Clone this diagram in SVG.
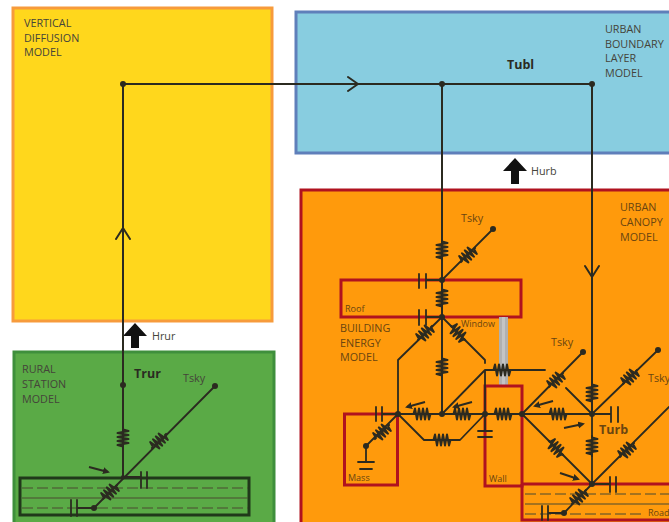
<svg xmlns="http://www.w3.org/2000/svg" width="669" height="522" viewBox="0 0 669 522">
<style>
text{font-family:"Open Sans","Noto Sans","Liberation Sans",sans-serif;font-size:10.800px;fill:#45443a}
.o text,text.o{fill:#6a4510}
.b{font-weight:700;font-size:12.500px;fill:#2a2a22}
.s{font-size:9px}
.w{fill:none;stroke:#2b2a20;stroke-width:1.8;stroke-linecap:round;stroke-linejoin:round}
.t{stroke-width:2}
.r{fill:none;stroke:#2b2a20;stroke-width:2;stroke-linejoin:round;stroke-linecap:round}
.n{fill:#2b2a20}
.red{fill:none;stroke:#b0121f;stroke-width:3}
.d{fill:none;stroke:#4a4a30;stroke-width:1.200;stroke-dasharray:11 4}
.l{fill:none;stroke:#4a4a30;stroke-width:1.200}
.wind{fill:none;stroke:#2b2a20;stroke-width:2;marker-end:url(#ah)}
</style>
<defs>
<path id="R" class="r" d="M-10 0H-8.500L-7 -5.500L-5 5.500L-3 -5.500L-1 5.500L1 -5.500L3 5.500L5 -5.500L7 5.500L8.500 0H10"/>
<marker id="ah" markerWidth="8" markerHeight="8" refX="5" refY="3.500" orient="auto" markerUnits="userSpaceOnUse"><path d="M0 0L7 3.500L0 7Z" fill="#2b2a20"/></marker>
</defs>
<rect width="669" height="522" fill="#fff"/>
<g id="vertical-diffusion-model">
<rect x="13" y="8" width="259" height="313" fill="#ffd71c" stroke="#f79b3c" stroke-width="3"/>
<text x="24" y="27">VERTICAL</text><text x="24" y="42">DIFFUSION</text><text x="24" y="56">MODEL</text>
</g>
<g id="urban-boundary-layer-model">
<rect x="296" y="12" width="380" height="141" fill="#88cde0" stroke="#5f7fba" stroke-width="3"/>
<text x="605" y="33">URBAN</text><text x="605" y="48">BOUNDARY</text><text x="605" y="62">LAYER</text><text x="605" y="77">MODEL</text>
<text x="507" y="69" class="b">Tubl</text>
</g>
<g id="urban-canopy-model" class="o">
<rect x="301" y="190" width="380" height="340" fill="#ff9a0c" stroke="#b0121f" stroke-width="3"/>
<text x="620" y="211">URBAN</text><text x="620" y="226">CANOPY</text><text x="620" y="241">MODEL</text>
</g>
<g id="rural-station-model">
<rect x="14" y="352" width="260" height="175" fill="#5aaa46" stroke="#3f8f3c" stroke-width="3"/>
<text x="22" y="373">RURAL</text><text x="22" y="388">STATION</text><text x="22" y="403">MODEL</text>
<text x="134" y="378" class="b">Trur</text>
<text x="183" y="382">Tsky</text>
</g>
<g id="rural-ground">
<rect x="20" y="478" width="229" height="37" fill="none" stroke="#20381a" stroke-width="3"/>
<path class="d" d="M22 488H248M22 508H248"/><path class="l" d="M22 498H248"/>
</g>
<g id="roof" class="o"><rect x="341" y="280" width="180" height="37" class="red"/><text x="345" y="312" class="s">Roof</text></g>
<g id="window" class="o">
<rect x="499" y="317" width="9" height="69" fill="#b0b0b0"/><rect x="502" y="317" width="3" height="69" fill="#c4c4c4"/>
<text x="461" y="327" class="s">Window</text></g>
<g id="building-energy-model" class="o"><text x="340" y="332">BUILDING</text><text x="340" y="347">ENERGY</text><text x="340" y="361">MODEL</text></g>
<g id="mass" class="o"><rect x="344.500" y="414" width="53" height="71" class="red"/><text x="348" y="481" class="s">Mass</text></g>
<g id="wall" class="o"><rect x="485" y="386" width="37" height="100" class="red"/><text x="489" y="482" class="s">Wall</text></g>
<g id="road" class="o">
<path class="red" d="M522 484H669M522 484V520H669"/>
<path class="d" d="M525 494H669M525 514H645"/><path class="l" d="M525 504H669"/>
<text x="648" y="516" class="s">Road</text></g>
<g id="flux-hrur"><path d="M135 323L147 336H139V348H131V336H123Z" fill="#111"/><text x="152" y="340">Hrur</text></g>
<g id="flux-hurb"><path d="M515 158L527 171H519V184H511V171H503Z" fill="#111"/><text x="531" y="175">Hurb</text></g>
<g id="tsky-labels" class="o"><text x="461" y="222">Tsky</text><text x="551" y="346">Tsky</text><text x="648" y="382">Tsky</text><text x="599" y="434" class="b">Turb</text></g>
<g id="connectors">
<path class="w t" d="M123 477V84H592V414M442 84V414M116 239L123 228L130 239M348 77L358 84L348 91M585 266L592 277L599 266"/>
<path class="w" d="M215 386L94 508H77M123 477H141M141 472V488M147 472V488M71 500V516M77 500V516"/>
<path class="w" d="M493 229L442 280H426M419 274V288M426 274V288M442 317H426M419 310V325M426 310V325"/>
<path class="w" d="M398 414V360L442 317L485 360V363M485 370V414M442 414L485 370H545"/>
<path class="w" d="M382 414H398H522M376 407V421M382 407V421M398 414L366 446V462M358 462H374M360 469H372"/>
<path class="w" d="M398 414L424 440H460L485 414V431M478 431H492M478 437H492"/>
<path class="w" d="M583 352L522 414L592 484M522 414H592H611M611 407V422M618 407V422M566 388L592 414M658 350L592 414V484L669 407"/>
<path class="w" d="M592 484H610M610 477V492M616 477V492M592 484L564 513H548M542 506V520M548 506V520"/>
<circle class="n" cx="123" cy="84" r="3"/><circle class="n" cx="442" cy="84" r="3"/><circle class="n" cx="592" cy="84" r="3"/>
<circle class="n" cx="123" cy="385" r="3"/><circle class="n" cx="215" cy="386" r="3"/><circle class="n" cx="94" cy="508" r="3"/><circle class="n" cx="123" cy="477" r="2"/>
<circle class="n" cx="493" cy="229" r="3"/><circle class="n" cx="442" cy="280" r="3"/><circle class="n" cx="442" cy="317" r="3"/>
<circle class="n" cx="398" cy="414" r="3"/><circle class="n" cx="442" cy="414" r="3"/><circle class="n" cx="485" cy="414" r="3"/><circle class="n" cx="522" cy="414" r="3"/><circle class="n" cx="592" cy="414" r="3"/><circle class="n" cx="592" cy="484" r="3"/>
<circle class="n" cx="366" cy="446" r="3"/><circle class="n" cx="583" cy="352" r="3"/><circle class="n" cx="658" cy="350" r="3"/><circle class="n" cx="564" cy="513" r="3"/>
<g fill="none">
<use href="#R" transform="translate(123 438) rotate(90)"/>
<use href="#R" transform="translate(159 441) rotate(-45)"/>
<use href="#R" transform="translate(110 492) rotate(-45)"/>
<use href="#R" transform="translate(442 250) rotate(90)"/>
<use href="#R" transform="translate(468 255) rotate(-45)"/>
<use href="#R" transform="translate(442 298) rotate(90)"/>
<use href="#R" transform="translate(425 333) rotate(-45)"/>
<use href="#R" transform="translate(458 333) rotate(45)"/>
<use href="#R" transform="translate(442 367) rotate(90)"/>
<use href="#R" transform="translate(502 370)"/>
<use href="#R" transform="translate(382 432) rotate(-45)"/>
<use href="#R" transform="translate(422 414)"/>
<use href="#R" transform="translate(462 414)"/>
<use href="#R" transform="translate(442 440)"/>
<use href="#R" transform="translate(503 414)"/>
<use href="#R" transform="translate(558 414)"/>
<use href="#R" transform="translate(592 393) rotate(90)"/>
<use href="#R" transform="translate(592 446) rotate(90)"/>
<use href="#R" transform="translate(556 380) rotate(-45)"/>
<use href="#R" transform="translate(630 377) rotate(-45)"/>
<use href="#R" transform="translate(627 450) rotate(-45)"/>
<use href="#R" transform="translate(556 448) rotate(45)"/>
<use href="#R" transform="translate(579 497) rotate(-45)"/>
</g>
<path class="wind" d="M89 467L108 472"/>
<path class="wind" d="M425 402L407 407"/>
<path class="wind" d="M472 402L454 407"/>
<path class="wind" d="M553 401L535 406"/>
<path class="wind" d="M564 428L583 424"/>
<path class="wind" d="M560 473L578 479"/>
</g>
</svg>
